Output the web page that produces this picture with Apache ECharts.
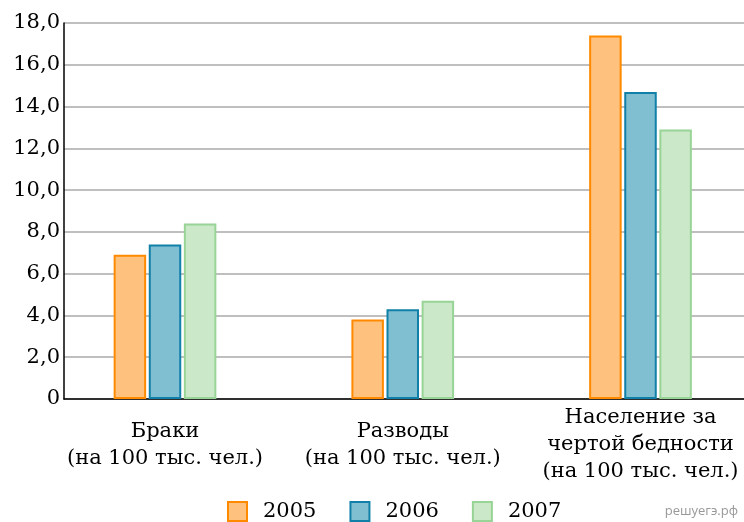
<!DOCTYPE html>
<html>
<head>
<meta charset="utf-8">
<script src="https://cdn.jsdelivr.net/npm/echarts@6/dist/echarts.min.js"></script>
<style>html,body{margin:0;padding:0;background:#fff}#c{width:744px;height:522px}</style>
</head>
<body>
<div id="c"></div>
<script>
const categories = ['Браки\n(на 100 тыс. чел.)', 'Разводы\n(на 100 тыс. чел.)', 'Население за\nчертой бедности\n(на 100 тыс. чел.)'];
const years = ['2005', '2006', '2007'];
const values2005 = [6.9, 3.8, 17.4];
const values2006 = [7.4, 4.3, 14.7];
const values2007 = [8.4, 4.7, 12.9];
const yTicks = [0, 2, 4, 6, 8, 10, 12, 14, 16, 18];

const fills = ['#FEC17E', '#80BFD2', '#CBE9C8'];
const borders = ['#FF8A00', '#1080A8', '#98D496'];
const font = 'DejaVu Serif';

const chart = echarts.init(document.getElementById('c'), null, {renderer: 'canvas'});
const seriesData = [values2005, values2006, values2007];
chart.setOption({
  animation: false,
  textStyle: {fontFamily: font},
  grid: [
    {left: 64, right: 0, top: 23, bottom: 123},
    {left: 165, width: 475.5, top: 23, bottom: 123}
  ],
  xAxis: [
    {gridIndex: 0, type: 'category', data: [''], axisLine: {show: true, lineStyle: {color: '#000', width: 1.5}},
     axisTick: {show: false}, axisLabel: {show: false}, splitLine: {show: false}},
    {gridIndex: 1, type: 'category', data: categories, boundaryGap: false, axisLine: {show: false}, axisTick: {show: false},
     axisLabel: {margin: 46, verticalAlign: 'middle', fontFamily: font, fontSize: 21, color: '#000', lineHeight: 27, interval: 0}}
  ],
  yAxis: [
    {gridIndex: 0, type: 'value', min: yTicks[0], max: yTicks[yTicks.length - 1], interval: 2,
     axisLine: {show: true, lineStyle: {color: '#000', width: 1.5}}, axisTick: {show: false},
     axisLabel: {margin: 4, fontFamily: font, fontSize: 21, color: '#000',
       formatter: v => v === 0 ? '0' : v.toFixed(1).replace('.', ',')},
     splitLine: {lineStyle: {color: '#AAAAAA', width: 1.5}}},
    {gridIndex: 1, type: 'value', min: yTicks[0], max: yTicks[yTicks.length - 1], interval: 2, show: false,
     splitLine: {show: false}}
  ],
  legend: {
    top: 501, left: 227, padding: 0, itemWidth: 19, itemHeight: 19, itemGap: 33,
    icon: 'rect',
    textStyle: {fontFamily: font, fontSize: 21, lineHeight: 19, color: '#000', padding: [0, 0, 0, 11]},
    data: years
  },
  series: years.map((y, i) => ({
    name: y, type: 'bar', xAxisIndex: 1, yAxisIndex: 1,
    data: seriesData[i], barWidth: 32.5, barGap: '8%',
    itemStyle: {color: fills[i], borderColor: borders[i], borderWidth: 2}
  })),
  graphic: [{type: 'text', right: 6, bottom: 4,
    style: {text: 'решуегэ.рф', fill: '#999', font: '13px "Open Sans", sans-serif'}}]
});
</script>
</body>
</html>
